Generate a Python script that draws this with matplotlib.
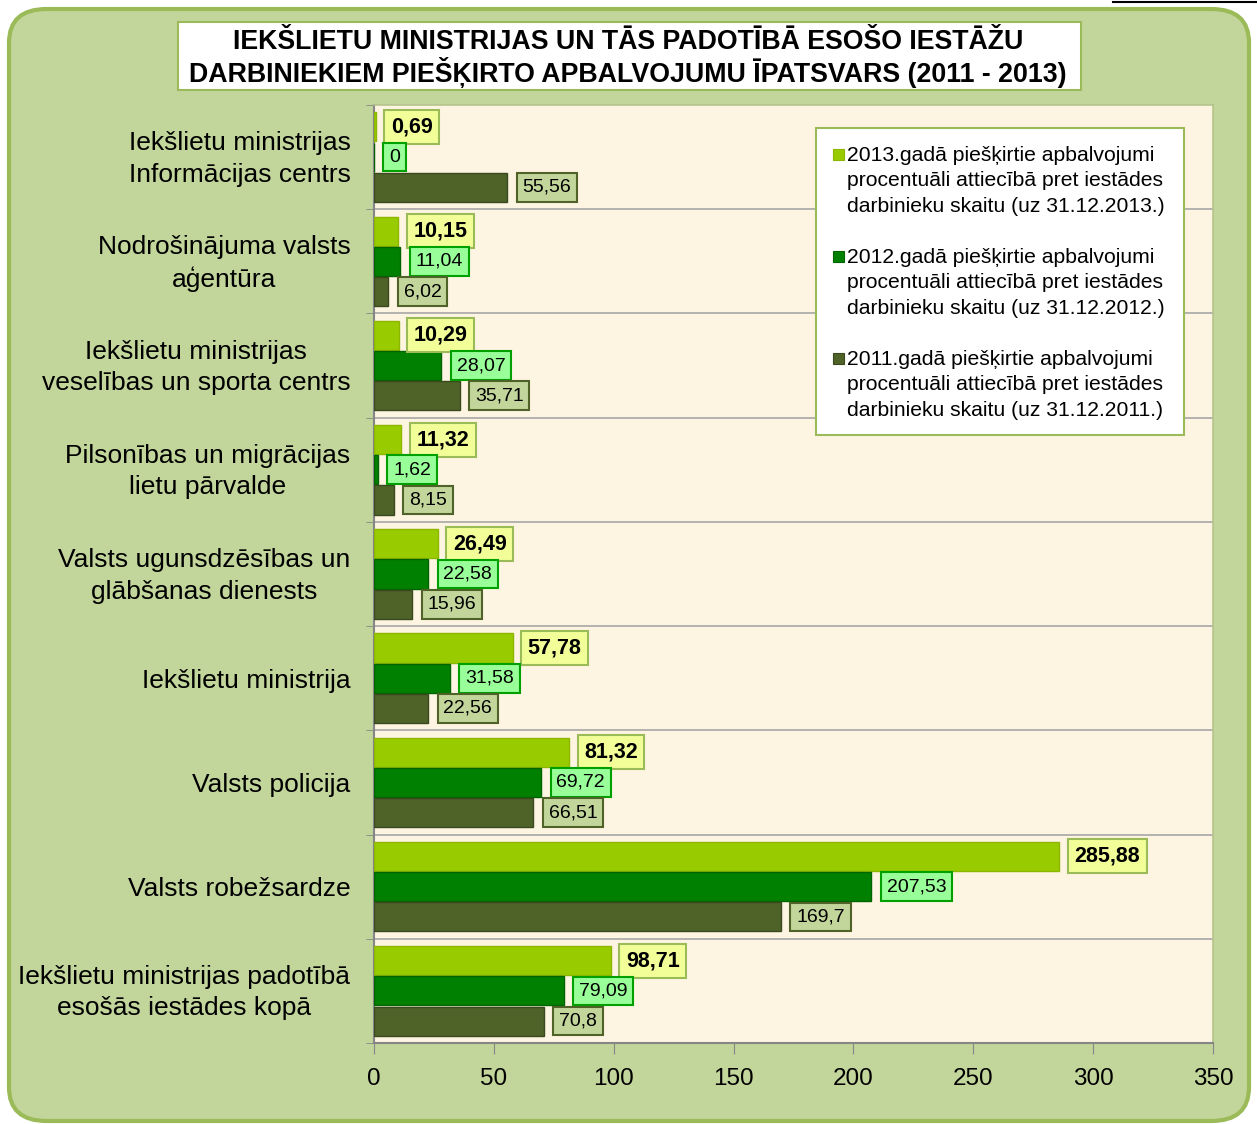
import matplotlib
matplotlib.use("Agg")
import matplotlib.pyplot as plt
from matplotlib.patches import FancyBboxPatch, Rectangle
from matplotlib.lines import Line2D
import numpy as np

plt.rcParams['font.family'] = ['Liberation Sans', 'DejaVu Sans']

categories = [
    "Iekšlietu ministrijas\nInformācijas centrs",
    "Nodrošinājuma valsts\naģentūra",
    "Iekšlietu ministrijas\nveselības un sporta centrs",
    "Pilsonības un migrācijas\nlietu pārvalde",
    "Valsts ugunsdzēsības un\nglābšanas dienests",
    "Iekšlietu ministrija",
    "Valsts policija",
    "Valsts robežsardze",
    "Iekšlietu ministrijas padotībā\nesošās iestādes kopā",
]
v2013 = [0.69, 10.15, 10.29, 11.32, 26.49, 57.78, 81.32, 285.88, 98.71]
v2012 = [0, 11.04, 28.07, 1.62, 22.58, 31.58, 69.72, 207.53, 79.09]
v2011 = [55.56, 6.02, 35.71, 8.15, 15.96, 22.56, 66.51, 169.7, 70.8]
series_labels = [
    "2013.gadā piešķirtie apbalvojumi\nprocentuāli attiecībā pret iestādes\ndarbinieku skaitu (uz 31.12.2013.)",
    "2012.gadā piešķirtie apbalvojumi\nprocentuāli attiecībā pret iestādes\ndarbinieku skaitu (uz 31.12.2012.)",
    "2011.gadā piešķirtie apbalvojumi\nprocentuāli attiecībā pret iestādes\ndarbinieku skaitu (uz 31.12.2011.)",
]
title_lines = ["IEKŠLIETU MINISTRIJAS UN TĀS PADOTĪBĀ ESOŠO IESTĀŽU",
               "DARBINIEKIEM PIEŠĶIRTO APBALVOJUMU ĪPATSVARS (2011 - 2013)"]
xticks = [0, 50, 100, 150, 200, 250, 300, 350]

W, H = 1257, 1124
fig = plt.figure(figsize=(W / 100, H / 100), dpi=100, facecolor='white')

def fx(px):
    return px / W

def fy(py):
    return 1 - py / H

# outer rounded green panel
panel = FancyBboxPatch((fx(9), fy(1121)), fx(1249) - fx(9), fy(9) - fy(1121),
                       boxstyle="round,pad=0,rounding_size=0.03",
                       transform=fig.transFigure, facecolor='#C2D59B',
                       edgecolor='#9BBB59', linewidth=3, zorder=-5)
fig.patches.append(panel)
fig.lines.append(Line2D([fx(1113), fx(1257)], [fy(2), fy(2)], transform=fig.transFigure,
                        color='black', lw=1.5))

# title box
fig.patches.append(Rectangle((fx(178), fy(90)), fx(1081) - fx(178), fy(22) - fy(90),
                             transform=fig.transFigure, facecolor='white',
                             edgecolor='#9BBB59', lw=1.5, zorder=1))
fig.text(fx(628), fy(42), title_lines[0], ha='center', va='center', fontsize=19.3,
         fontweight='bold', zorder=2)
fig.text(fx(628), fy(72), title_lines[1], ha='center', va='center', fontsize=19.3,
         fontweight='bold', zorder=2)

ax = fig.add_axes([fx(374), fy(1043), fx(1213) - fx(374), fy(105) - fy(1043)])
ax.set_facecolor('#FDF4E1')

colors = ['#99CC00', '#008000', '#4F6228']
edges = ['#8DB600', '#006400', '#3B4A1E']
lab_face = ['#F2FF99', '#99FF99', '#C2D59B']
lab_edge = ['#9BBB59', '#00A000', '#4F6228']
lab_weight = ['bold', 'normal', 'normal']
lab_size = [15.5, 14, 14]
offsets = [-0.29, 0.0, 0.29]
h = 0.28
y = np.arange(len(categories))

for s, vals in enumerate([v2013, v2012, v2011]):
    ys = y + offsets[s]
    ax.barh(ys, vals, height=h, color=colors[s], edgecolor=edges[s], lw=1, zorder=3)
    for yy, v in zip(ys, vals):
        txt = f"{v:g}".replace('.', ',')
        ax.annotate(txt, (v, yy), xytext=(11, 0), textcoords='offset points',
                    ha='left', va='center', fontsize=lab_size[s], fontweight=lab_weight[s],
                    zorder=5,
                    bbox=dict(boxstyle='square,pad=0.3', facecolor=lab_face[s],
                              edgecolor=lab_edge[s], lw=1.5))

ax.set_xlim(0, 350)
ax.set_ylim(len(categories) - 0.5, -0.5)
ax.set_xticks(xticks)
ax.set_xticklabels([str(t) for t in xticks], fontsize=17.5)
# two-line labels sit slightly higher (tick marks are invisible, length 0)
label_pos = [yi - (0.04 if '\n' in c else 0.0) for yi, c in zip(y, categories)]
ax.set_yticks(label_pos)
ax.set_yticklabels(categories, fontsize=19, multialignment='center', linespacing=1.38)
ax.set_yticks(np.arange(-0.5, len(categories) + 0.5, 1), minor=True)
ax.tick_params(axis='y', which='major', length=0, pad=17)
ax.tick_params(axis='y', which='minor', length=6, color='#868686', direction='out')
ax.tick_params(axis='x', which='major', length=8, color='#868686', direction='out', pad=10)
for b in np.arange(0.5, len(categories) - 0.5, 1):
    ax.axhline(b, color='#A6A6A6', lw=1.2, zorder=1)
for sp in ['left', 'bottom']:
    ax.spines[sp].set_color('#868686')
    ax.spines[sp].set_linewidth(1.5)
for sp in ['top', 'right']:
    ax.spines[sp].set_color('#B4C48C')
    ax.spines[sp].set_linewidth(1.2)

# legend (manual, square aligned with first line)
fig.patches.append(Rectangle((fx(816), fy(435)), fx(1184) - fx(816), fy(128) - fy(435),
                             transform=fig.transFigure, facecolor='white',
                             edgecolor='#9BBB59', lw=1.5, zorder=6))
entry_top = [155, 257, 359]
for s in range(3):
    fig.patches.append(Rectangle((fx(833), fy(entry_top[s] + 5)), fx(11), fy(0) - fy(11),
                                 transform=fig.transFigure, facecolor=colors[s],
                                 edgecolor=edges[s], lw=0.8, zorder=7))
    fig.text(fx(847), fy(entry_top[s] - 9), series_labels[s], ha='left', va='top',
             fontsize=15.2, linespacing=1.42, zorder=7)

fig.savefig("out.png", dpi=100, facecolor=fig.get_facecolor())
